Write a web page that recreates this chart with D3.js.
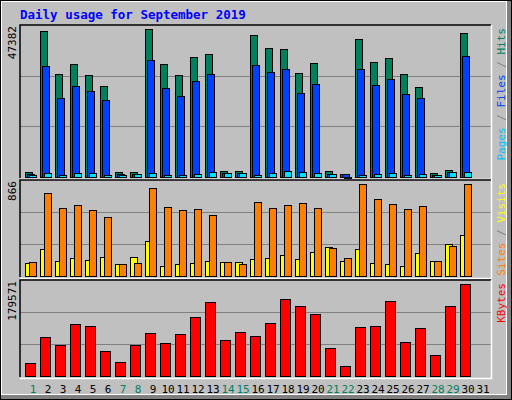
<!DOCTYPE html>
<html>
<head>
<meta charset="utf-8">
<script src="https://cdn.jsdelivr.net/npm/d3@7"></script>
<style>
  body { margin: 0; background: #fff; }
  svg { display: block; }
  text { font-family: "DejaVu Sans Mono", monospace; }
</style>
</head>
<body>
<svg id="chart" width="512" height="400"></svg>
<script>
// daily usage, September 2019 (day 31 has no data)
var days = d3.range(1, 32);
var weekend = [1, 7, 8, 14, 15, 21, 22, 28, 29];

var hits = [1475, 45500, 32007, 35145, 31693, 28241, 1569, 1569, 46127, 35145, 31693, 37341, 38283, 1883, 1883, 44244,
            40165, 39851, 32321, 35459, 1883, 941, 42990, 35772, 37028, 32007, 27927, 1255, 2197, 44872, 0];
var files = [941, 34518, 24476, 28241, 26673, 23848, 941, 941, 36400, 27614, 25104, 29810, 32007, 1255, 1255, 34831,
             32635, 33576, 26045, 28869, 941, 941, 33576, 28555, 30438, 25731, 24476, 628, 1569, 37656, 0];
var pages = [628, 1255, 628, 1255, 1255, 628, 628, 941, 1255, 628, 628, 941, 1569, 1255, 1255, 628,
             1255, 1883, 1569, 1255, 941, 100, 628, 941, 1255, 628, 941, 628, 1569, 1569, 0];
var visits = [117, 244, 135, 162, 144, 171, 108, 171, 316, 90, 108, 117, 135, 126, 126, 153,
              162, 189, 153, 217, 262, 135, 244, 117, 108, 90, 207, 135, 289, 370, 0];
var sites = [126, 749, 613, 640, 595, 532, 108, 117, 794, 622, 595, 604, 550, 126, 108, 668,
             613, 640, 659, 613, 253, 162, 830, 695, 650, 604, 631, 135, 271, 830, 0];
var kbytes = [25115, 72208, 57138, 96696, 92929, 45836, 27000, 57138, 79742, 60906, 77859, 109880, 138136, 66557, 81626, 74091,
              98580, 143787, 130602, 115533, 51487, 19465, 91045, 92929, 140019, 62790, 89161, 40185, 130602, 172041, 0];

var maxHits = 47382, maxVisits = 866, maxKbytes = 179571;

var svg = d3.select('#chart');
var W = 512, H = 400;
var left = 20, right = 491;

// background + bevel
svg.append('rect').attr('width', W).attr('height', H).attr('fill', '#000');
svg.append('rect').attr('x', 1).attr('y', 1).attr('width', W - 2).attr('height', H - 2).attr('fill', '#808080');
svg.append('rect').attr('x', 1).attr('y', 1).attr('width', W - 6).attr('height', H - 6).attr('fill', '#fff');
svg.append('rect').attr('x', 2).attr('y', 2).attr('width', W - 8).attr('height', H - 8).attr('fill', '#c0c0c0');

svg.append('text').attr('x', 20).attr('y', 19)
    .attr('font-size', 12.5).attr('font-weight', 'bold').attr('fill', '#0000ff')
    .text('Daily usage for September 2019');

var x = d3.scaleBand().domain(days).range([25, 25 + 15 * 31]).paddingInner(0);

function panel(top, bottom, max, label, legend) {
    var y = d3.scaleLinear().domain([0, max]).range([bottom - 1, top]);
    var g = svg.append('g');
    // grid at thirds
    [1 / 3, 2 / 3].forEach(function(f) {
        var gy = Math.round(y(max * f)) + 0.5;
        g.append('line').attr('x1', left).attr('x2', right).attr('y1', gy).attr('y2', gy)
            .attr('stroke', '#808080').attr('stroke-width', 1);
    });
    g.append('path').attr('d', 'M' + left + ',' + bottom + 'V' + top + 'H' + right)
        .attr('fill', 'none').attr('stroke', '#000').attr('stroke-width', 1.5);
    g.append('path').attr('d', 'M' + left + ',' + (bottom + 1.5) + 'H' + (right + 0.5) + 'V' + top)
        .attr('fill', 'none').attr('stroke', '#fff').attr('stroke-width', 1.5);

    svg.append('text')
        .attr('transform', 'translate(16,' + (top + 1) + ') rotate(-90)')
        .attr('text-anchor', 'end').attr('font-size', 11).attr('fill', '#000')
        .text(label);

    var t = svg.append('text')
        .attr('transform', 'translate(497,' + (top + 3) + ') rotate(-90)')
        .attr('text-anchor', 'end').attr('font-size', 11).attr('dominant-baseline', 'hanging');
    legend.forEach(function(l, i) {
        if (i > 0) t.append('tspan').attr('fill', '#808080').text(' / ');
        t.append('tspan').attr('fill', l[1]).text(l[0]);
    });
    return {g: g, y: y, base: bottom - 1};
}

function bars(p, values, color, offset, width) {
    p.g.selectAll(null).data(values).enter()
        .filter(function(d) { return d > 0; })
        .append('rect')
        .attr('x', function(d, i) { return x(days[i]) + offset + 0.5; })
        .attr('y', function(d) { return Math.round(p.y(d)) + 0.5; })
        .attr('width', width)
        .attr('height', function(d) { return Math.max(1, p.base - Math.round(p.y(d))); })
        .attr('fill', color).attr('stroke', '#000').attr('stroke-width', 1);
}

var p1 = panel(25, 178, maxHits, '47382', [['Pages', '#00c0ff'], ['Files', '#0040ff'], ['Hits', '#00805c']]);
bars(p1, hits, '#00805c', 0, 7);
bars(p1, files, '#0040ff', 2, 7);
bars(p1, pages, '#00e0ff', 4, 7);

var p2 = panel(180, 277, maxVisits, '866', [['Sites', '#ff8000'], ['Visits', '#ffff00']]);
bars(p2, visits, '#ffff00', 0, 7);
bars(p2, sites, '#ff8000', 4, 7);

var p3 = panel(280, 377, maxKbytes, '179571', [['KBytes', '#ff0000']]);
bars(p3, kbytes, '#ff0000', 0, 10);

svg.selectAll('.day').data(days).enter().append('text')
    .attr('class', 'day')
    .attr('x', function(d) { return x(d) + 8; })
    .attr('y', 393)
    .attr('text-anchor', 'middle').attr('font-size', 11)
    .attr('fill', function(d) { return weekend.indexOf(d) >= 0 ? '#00805c' : '#000'; })
    .text(function(d) { return d; });
</script>
</body>
</html>
